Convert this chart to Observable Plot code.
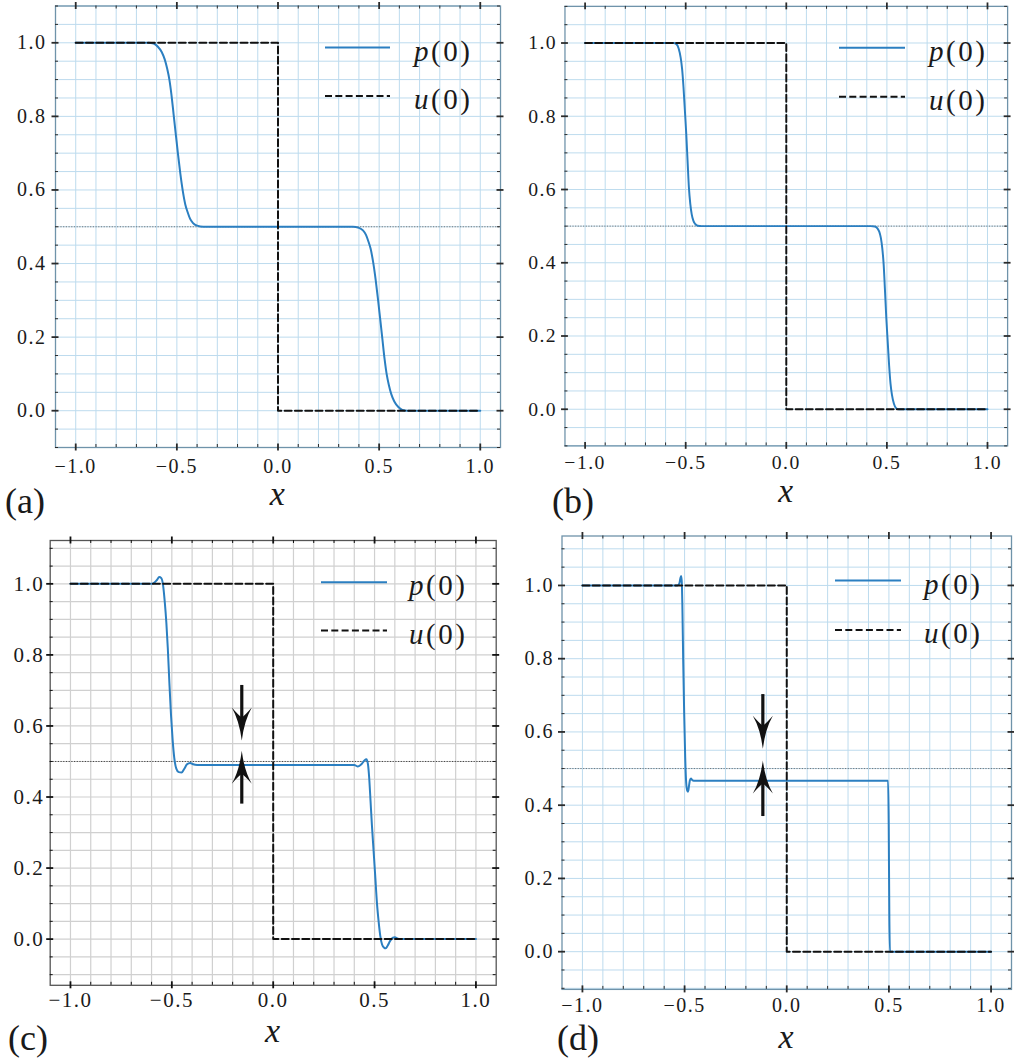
<!DOCTYPE html>
<html>
<head>
<meta charset="utf-8">
<script src="https://cdn.jsdelivr.net/npm/d3@7"></script>
<script src="https://cdn.jsdelivr.net/npm/@observablehq/plot@0.6"></script>
<style>
  html, body { margin: 0; padding: 0; background: #fff; overflow: hidden; }
  #page { position: relative; width: 1014px; height: 1059px; overflow: hidden; background: #fff; }
  .panel { position: absolute; }
  .panel svg { overflow: visible; }
  #overlay { position: absolute; left: 0; top: 0; pointer-events: none; }
</style>
</head>
<body>
<div id="page"></div>
<script>
// ---------------- data ----------------
const xMajor = [-1, -0.5, 0, 0.5, 1];
const yMajor = [0, 0.2, 0.4, 0.6, 0.8, 1.0];
const xMinor = [-1, -0.9, -0.8, -0.7, -0.6, -0.5, -0.4, -0.3, -0.2, -0.1, 0, 0.1, 0.2, 0.3, 0.4, 0.5, 0.6, 0.7, 0.8, 0.9, 1];
const yMinor = [-0.1, -0.05, 0, 0.05, 0.1, 0.15, 0.2, 0.25, 0.3, 0.35, 0.4, 0.45, 0.5, 0.55, 0.6, 0.65, 0.7, 0.75, 0.8, 0.85, 0.9, 0.95, 1, 1.05, 1.1];
const referenceLevel = [0.5];

// u(0): initial step
const uX = [-1, 0, 0, 1];
const uY = [1, 1, 0, 0];

// p(0) panel (a)
const pA_x = [-1, -0.64, -0.615, -0.595, -0.575, -0.56, -0.548, -0.537, -0.527, -0.516, -0.505, -0.495, -0.483, -0.47, -0.458, -0.447, -0.435, -0.42, -0.4, -0.37, 0.37, 0.4, 0.42, 0.435, 0.447, 0.458, 0.47, 0.483, 0.495, 0.505, 0.516, 0.527, 0.537, 0.548, 0.56, 0.575, 0.595, 0.615, 0.64, 1];
const pA_y = [1, 1, 0.998, 0.99, 0.975, 0.955, 0.93, 0.9, 0.86, 0.805, 0.75, 0.7, 0.645, 0.595, 0.56, 0.54, 0.522, 0.51, 0.503, 0.5, 0.5, 0.497, 0.49, 0.478, 0.46, 0.44, 0.405, 0.355, 0.3, 0.25, 0.195, 0.14, 0.1, 0.07, 0.045, 0.025, 0.01, 0.002, 0, 0];

// p(0) panel (b)
const pB_x = [-1, -0.56, -0.546, -0.535, -0.525, -0.518, -0.511, -0.504, -0.497, -0.49, -0.484, -0.477, -0.47, -0.462, -0.453, -0.44, -0.42, 0.42, 0.44, 0.453, 0.462, 0.47, 0.477, 0.484, 0.49, 0.497, 0.504, 0.511, 0.518, 0.525, 0.535, 0.546, 0.56, 1];
const pB_y = [1, 1, 0.997, 0.985, 0.96, 0.93, 0.88, 0.815, 0.75, 0.67, 0.605, 0.56, 0.532, 0.515, 0.506, 0.501, 0.5, 0.5, 0.499, 0.494, 0.485, 0.468, 0.44, 0.395, 0.33, 0.25, 0.185, 0.12, 0.07, 0.04, 0.015, 0.003, 0, 0];

// p(0) panel (c)
const pC_x = [-1, -0.6, -0.59, -0.575, -0.562, -0.552, -0.543, -0.535, -0.527, -0.52, -0.512, -0.504, -0.496, -0.488, -0.478, -0.466, -0.452, -0.44, -0.425, -0.41, -0.395, -0.375, 0.4, 0.418, 0.435, 0.45, 0.46, 0.468, 0.474, 0.48, 0.487, 0.495, 0.503, 0.512, 0.52, 0.528, 0.537, 0.547, 0.555, 0.565, 0.577, 0.59, 0.6, 0.612, 0.625, 1];
const pC_y = [1, 1, 1.002, 1.01, 1.019, 1.016, 0.995, 0.95, 0.89, 0.82, 0.72, 0.63, 0.56, 0.51, 0.48, 0.47, 0.469, 0.478, 0.492, 0.496, 0.492, 0.49, 0.49, 0.486, 0.492, 0.503, 0.506, 0.49, 0.45, 0.39, 0.32, 0.25, 0.18, 0.1, 0.05, 0.01, -0.015, -0.024, -0.026, -0.018, -0.005, 0.004, 0.005, 0.002, 0, 0];

// p(0) panel (d)
const pD_x = [-1, -0.535, -0.526, -0.521, -0.517, -0.514, -0.511, -0.507, -0.502, -0.497, -0.492, -0.487, -0.483, -0.479, -0.474, -0.469, -0.463, -0.455, 0.496, 0.499, 0.502, 0.505, 1];
const pD_y = [1, 1, 1.005, 1.018, 1.026, 1.012, 0.95, 0.8, 0.65, 0.53, 0.46, 0.44, 0.437, 0.45, 0.468, 0.473, 0.469, 0.467, 0.467, 0.35, 0.1, 0, 0];

// gap arrows (x position, down-arrow top & tip, up-arrow tip & bottom)
const arrowC_x = [-0.155];
const arrowC_down = [0.714, 0.559];
const arrowC_up = [0.53, 0.38];
const arrowD_x = [-0.117];
const arrowD_down = [0.702, 0.554];
const arrowD_up = [0.522, 0.369];

const legendLabels = ["p", "u"];

// ---------------- styles / layout ----------------
const serif = "'Liberation Serif', Tinos, 'Times New Roman', Times, 'DejaVu Serif', serif";
const blueLine = "#2b7fc1";
const themes = {
  blue: { grid: "#bddbee", gridW: 1, frame: "#6f93aa", tick: "#2a2a2a", dotted: "#6a6a6a" },
  gray: { grid: "#d0d0d0", gridW: 1.2, frame: "#555555", tick: "#111111", dotted: "#333333" }
};

const panels = [
  { key: "a", left: 0, top: 0, width: 507, height: 520,
    margin: { top: 5.5, right: 7, bottom: 73, left: 55 }, yDomain: [-0.1, 1.1],
    padX: 11, padY: 9, xLabelDy: 33, theme: "blue", font: 20,
    px: pA_x, py: pA_y, arrow: null },
  { key: "b", left: 507, top: 0, width: 516, height: 520,
    margin: { top: 6, right: 7, bottom: 66.7, left: 58.5 }, yDomain: [-0.1, 1.1],
    padX: 9, padY: 8, xLabelDy: 33, theme: "blue", font: 20,
    px: pB_x, py: pB_y, arrow: null },
  { key: "c", left: 0, top: 520, width: 507, height: 539,
    margin: { top: 20, right: 11.3, bottom: 74.2, left: 49.7 }, yDomain: [-0.13, 1.122],
    padX: 6.5, padY: 6, xLabelDy: 33, theme: "gray", font: 21,
    px: pC_x, py: pC_y, arrow: { x: arrowC_x, down: arrowC_down, up: arrowC_up } },
  { key: "d", left: 507, top: 520, width: 507, height: 539,
    margin: { top: 15.5, right: 3, bottom: 70.1, left: 54.5 }, yDomain: [-0.103, 1.135],
    padX: 8, padY: 8, xLabelDy: 34, theme: "blue", font: 20,
    px: pD_x, py: pD_y, arrow: { x: arrowD_x, down: arrowD_down, up: arrowD_up } }
];

// legend and panel-label placement (page pixels)
const legends = [
  { key: "a", x1: 325, x2: 390, pY: 47.5, uY: 96, tx: 414, label: [5, 513] },
  { key: "b", x1: 839, x2: 905, pY: 47.7, uY: 96.7, tx: 929, label: [552, 513] },
  { key: "c", x1: 321, x2: 387, pY: 582.2, uY: 630.6, tx: 409, label: [8, 1050] },
  { key: "d", x1: 835, x2: 901, pY: 580.5, uY: 630, tx: 924, label: [557, 1050] }
];

// stealth arrowhead pointing up, tip at origin
const stealthHead = {
  draw(ctx) {
    ctx.moveTo(0, 0);
    ctx.quadraticCurveTo(-2.5, 20, -10, 33);
    ctx.quadraticCurveTo(-3, 25, 0, 23);
    ctx.quadraticCurveTo(3, 25, 10, 33);
    ctx.quadraticCurveTo(2.5, 20, 0, 0);
    ctx.closePath();
  }
};

const page = document.getElementById("page");

for (const P of panels) {
  const th = themes[P.theme];
  const m = P.margin;
  const innerW = P.width - m.left - m.right;
  const innerH = P.height - m.top - m.bottom;
  const pts = P.px.map((x, i) => ({ x, y: P.py[i] }));
  const u = uX.map((x, i) => ({ x, y: uY[i] }));
  const yGrid = yMinor.filter(v => v >= P.yDomain[0] && v <= P.yDomain[1]);
  const yMinorTicks = yGrid.filter(v => !yMajor.some(t => Math.abs(t - v) < 1e-9));
  const xMinorTicks = xMinor.filter(v => !xMajor.some(t => Math.abs(t - v) < 1e-9));
  const T = 3.5;

  const marks = [
    Plot.ruleX(xMinor, { x: d => d, stroke: th.grid, strokeWidth: th.gridW }),
    Plot.ruleY(yGrid, { y: d => d, stroke: th.grid, strokeWidth: th.gridW }),
    Plot.ruleY(referenceLevel, { y: d => d, stroke: th.dotted, strokeWidth: 0.9, strokeDasharray: "1.2,1.5" }),
    Plot.frame({ stroke: th.frame, strokeWidth: 1.3 }),
    // minor ticks (inward)
    Plot.tickX(xMinorTicks, { x: d => d, stroke: th.tick, strokeWidth: 1, insetTop: innerH - 3 }),
    Plot.tickX(xMinorTicks, { x: d => d, stroke: th.tick, strokeWidth: 1, insetBottom: innerH - 3 }),
    Plot.tickY(yMinorTicks, { y: d => d, stroke: th.tick, strokeWidth: 1, insetRight: innerW - 3 }),
    Plot.tickY(yMinorTicks, { y: d => d, stroke: th.tick, strokeWidth: 1, insetLeft: innerW - 3 }),
    // major ticks (crossing the frame)
    Plot.tickX(xMajor, { x: d => d, stroke: th.tick, strokeWidth: 1.8, insetTop: innerH - T, insetBottom: -T }),
    Plot.tickX(xMajor, { x: d => d, stroke: th.tick, strokeWidth: 1.8, insetTop: -T, insetBottom: innerH - T }),
    Plot.tickY(yMajor, { y: d => d, stroke: th.tick, strokeWidth: 1.8, insetLeft: -T, insetRight: innerW - T }),
    Plot.tickY(yMajor, { y: d => d, stroke: th.tick, strokeWidth: 1.8, insetLeft: innerW - T, insetRight: -T }),
    // curves
    Plot.line(pts, { x: "x", y: "y", stroke: blueLine, strokeWidth: 2, curve: "monotone-x" }),
    Plot.line(u, { x: "x", y: "y", stroke: "#111", strokeWidth: 2, strokeDasharray: "7,3.3" }),
    // x-axis title
    Plot.text(["x"], { text: d => d, frameAnchor: "bottom", lineAnchor: "top", dy: P.xLabelDy,
      fontStyle: "italic", fontSize: 34, fill: "#1a1a1a" })
  ];

  if (P.arrow) {
    const A = P.arrow;
    marks.push(
      Plot.ruleX(A.x, { x: d => d, y1: A.down[0], y2: A.down[1], insetBottom: 22, stroke: "#111", strokeWidth: 3.2 }),
      Plot.ruleX(A.x, { x: d => d, y1: A.up[0], y2: A.up[1], insetTop: 22, stroke: "#111", strokeWidth: 3.2 }),
      Plot.dot(A.x, { x: d => d, y: A.down[1], symbol: stealthHead, rotate: 180, fill: "#111", stroke: "none" }),
      Plot.dot(A.x, { x: d => d, y: A.up[0], symbol: stealthHead, rotate: 0, fill: "#111", stroke: "none" })
    );
  }

  const chart = Plot.plot({
    width: P.width,
    height: P.height,
    marginTop: m.top, marginRight: m.right, marginBottom: m.bottom, marginLeft: m.left,
    style: { fontFamily: serif, fontSize: P.font + "px",
             letterSpacing: "1.5px", color: "#1a1a1a", background: "transparent", overflow: "visible" },
    x: { domain: [-1.1, 1.1], ticks: xMajor, tickFormat: ".1f", tickSize: 0, tickPadding: P.padX, label: null },
    y: { domain: P.yDomain, ticks: yMajor, tickFormat: ".1f", tickSize: 0, tickPadding: P.padY, label: null },
    marks
  });
  const div = document.createElement("div");
  div.className = "panel";
  div.style.left = P.left + "px";
  div.style.top = P.top + "px";
  div.appendChild(chart);
  page.appendChild(div);
}

// overlay: legends and panel labels
const svgNS = "http://www.w3.org/2000/svg";
const ov = document.createElementNS(svgNS, "svg");
ov.setAttribute("id", "overlay");
ov.setAttribute("width", 1014);
ov.setAttribute("height", 1059);
ov.style.fontFamily = serif;
let html = "";
for (const L of legends) {
  html += `<line x1="${L.x1}" x2="${L.x2}" y1="${L.pY}" y2="${L.pY}" stroke="${blueLine}" stroke-width="2"/>`;
  html += `<line x1="${L.x1}" x2="${L.x2}" y1="${L.uY}" y2="${L.uY}" stroke="#111" stroke-width="2" stroke-dasharray="7,3.3"/>`;
  const lines = [L.pY, L.uY];
  legendLabels.forEach((s, i) => {
    html += `<text x="${L.tx}" y="${lines[i] + 13}" font-size="29" letter-spacing="2.5" fill="#1a1a1a"><tspan font-style="italic">${s}</tspan>(0)</text>`;
  });
  html += `<text x="${L.label[0]}" y="${L.label[1]}" font-size="36" fill="#1a1a1a">(${L.key})</text>`;
}
ov.innerHTML = html;
page.appendChild(ov);
</script>
</body>
</html>
